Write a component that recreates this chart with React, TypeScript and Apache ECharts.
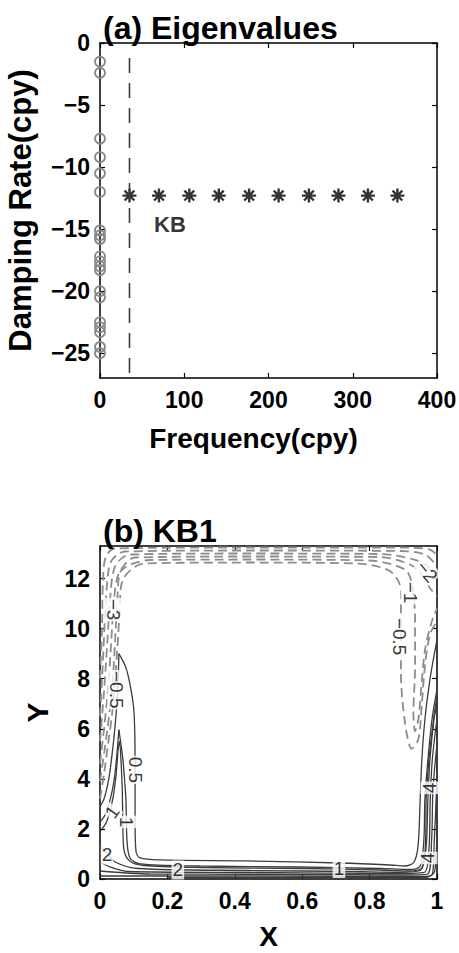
import React, { useEffect, useRef } from "react";
import * as echarts from "echarts";

// ---------- Panel (a): eigenvalues ----------
const xTicksA = [0, 100, 200, 300, 400];
const yTicksA = [-25, -20, -15, -10, -5, 0];
const kbFreq = [35, 70, 106, 141, 177, 212, 248, 283, 318, 353];
const kbDamp = [-12.3, -12.3, -12.3, -12.3, -12.3, -12.3, -12.3, -12.3, -12.3, -12.3];
const otherFreq = [0, 0, 0, 0, 0, 0, 0, 0, 0, 0, 0, 0, 0, 0, 0, 0, 0, 0, 0, 0];
const otherDamp = [-1.5, -2.4, -7.7, -9.2, -10.5, -12.0, -15.1, -15.5, -15.8, -17.2, -17.6, -18.0, -18.3, -20.0, -20.5, -22.5, -22.9, -23.3, -24.5, -25.0];
const cutoffFreq = 35;
const cutoffDamp = [-1.2, -27];
const kbNote = { x: 83, y: -14.6, text: "KB" };

// ---------- Panel (b): KB1 contours ----------
const xTicksB = [0, 0.2, 0.4, 0.6, 0.8, 1];
const yTicksB = [0, 2, 4, 6, 8, 10, 12];

// positive contours (solid)
const solidContours: number[][][] = [
  // 0.5
  [[0.056, 9.0], [0.077, 8.44], [0.092, 7.56], [0.101, 6.64], [0.104, 4.76], [0.104, 2.36], [0.107, 1.08], [0.119, 0.84], [0.178, 0.76], [0.445, 0.72], [0.712, 0.64], [0.861, 0.56], [0.905, 0.52], [0.932, 0.68], [0.944, 1.36], [0.95, 3.16], [0.955, 4.76], [0.964, 6.36], [0.979, 7.96], [1.0, 9.56]],
  [[0.056, 9.0], [0.054, 8.0], [0.05, 7.0], [0.044, 6.0], [0.036, 5.0], [0.026, 4.0], [0.012, 3.2], [0.0, 2.9]],
  // 1
  [[0.056, 5.96], [0.068, 4.76], [0.077, 3.16], [0.08, 1.56], [0.089, 0.84], [0.119, 0.6], [0.297, 0.52], [0.593, 0.48], [0.831, 0.42], [0.92, 0.38], [0.95, 0.52], [0.961, 1.56], [0.964, 3.16], [0.973, 4.76], [0.985, 6.36], [1.0, 7.56]],
  [[0.056, 5.96], [0.05, 4.96], [0.042, 3.96], [0.03, 3.16], [0.015, 2.56], [0.0, 2.28]],
  // 1.5
  [[0.0, 1.9], [0.02, 2.3], [0.038, 3.2], [0.048, 4.2], [0.054, 5.2], [0.058, 5.5], [0.062, 4.8], [0.066, 3.6], [0.068, 2.0], [0.072, 1.1], [0.09, 0.7], [0.13, 0.54], [0.3, 0.46], [0.6, 0.42], [0.83, 0.36], [0.915, 0.32], [0.955, 0.45], [0.966, 1.5], [0.968, 3.2], [0.976, 4.76], [0.99, 6.4], [1.0, 7.3]],
  // 2
  [[0.0, 1.32], [0.018, 1.08], [0.045, 0.68], [0.113, 0.42], [0.445, 0.34], [0.742, 0.3], [0.89, 0.27], [0.95, 0.34], [0.967, 1.16], [0.973, 3.16], [0.979, 4.76], [0.991, 6.36], [1.0, 7.0]],
  [[0.0, 0.68], [0.03, 0.48], [0.083, 0.3], [0.445, 0.26], [0.89, 0.22], [0.962, 0.26], [0.976, 1.16], [0.98, 3.16], [0.986, 4.76], [1.0, 6.4]],
  [[0.0, 0.32], [0.148, 0.2], [0.445, 0.19], [0.9, 0.16], [0.972, 0.2], [0.984, 1.56], [0.988, 3.56], [1.0, 5.4]],
  [[0.0, 0.12], [0.445, 0.12], [0.95, 0.1], [0.985, 0.16], [0.992, 1.56], [1.0, 4.0]],
  [[0.2, 0.06], [0.96, 0.05], [0.993, 0.3], [1.0, 2.4]],
];

// negative contours (dashed)
const dashedContours: number[][][] = [
  [[0.0, 8.0], [0.006, 10.0], [0.009, 12.0], [0.018, 12.9], [0.045, 13.2], [0.445, 13.24], [0.89, 13.24], [0.979, 13.16], [1.0, 12.92]],
  [[0.0, 6.5], [0.008, 8.5], [0.015, 10.5], [0.024, 12.2], [0.036, 12.75], [0.074, 13.08], [0.445, 13.12], [0.89, 13.1], [0.964, 12.96], [1.0, 12.5]],
  [[0.0, 5.5], [0.012, 7.5], [0.022, 9.5], [0.03, 11.2], [0.045, 12.5], [0.089, 12.96], [0.445, 13.0], [0.831, 12.98], [0.935, 12.75], [0.975, 12.45], [1.0, 12.1]],
  [[0.0, 4.6], [0.012, 6.0], [0.024, 7.6], [0.033, 9.4], [0.042, 11.2], [0.056, 12.2], [0.104, 12.84], [0.445, 12.88], [0.831, 12.86], [0.92, 12.56], [0.958, 12.1], [0.98, 11.6], [1.0, 11.3]],
  [[0.0, 3.9], [0.012, 5.0], [0.026, 6.4], [0.038, 8.0], [0.046, 9.8], [0.052, 11.3], [0.062, 12.3], [0.148, 12.74], [0.445, 12.76], [0.8, 12.72], [0.905, 12.36], [0.926, 11.76], [0.935, 10.24], [0.935, 8.48], [0.93, 6.64], [0.935, 5.9], [0.945, 6.4], [0.953, 7.6], [0.965, 9.2], [0.985, 10.3], [1.0, 10.8]],
  [[0.0, 3.2], [0.012, 4.2], [0.024, 5.4], [0.036, 6.6], [0.045, 8.0], [0.052, 9.3], [0.058, 10.6], [0.066, 11.9], [0.13, 12.6], [0.445, 12.64], [0.76, 12.6], [0.86, 12.3], [0.893, 11.56], [0.893, 10.08], [0.893, 8.24], [0.905, 6.24], [0.925, 5.2], [0.945, 5.6], [0.955, 7.0], [0.965, 8.6], [0.98, 9.8], [1.0, 10.3]],
];

const contourLabels = [
  { x: 0.039, y: 10.76, text: "\u22123", rotate: -90 },
  { x: 0.05, y: 7.56, text: "\u22120.5", rotate: -90 },
  { x: 0.104, y: 4.36, text: "0.5", rotate: -90 },
  { x: 0.036, y: 2.68, text: "1", rotate: 55 },
  { x: 0.08, y: 2.28, text: "1", rotate: -90 },
  { x: 0.021, y: 0.96, text: "2", rotate: 0 },
  { x: 0.231, y: 0.36, text: "2", rotate: 0 },
  { x: 0.709, y: 0.42, text: "1", rotate: 0 },
  { x: 0.979, y: 3.64, text: "4", rotate: 90 },
  { x: 0.973, y: 0.84, text: "4", rotate: 90 },
  { x: 0.97, y: 12.28, text: "\u22122", rotate: -50 },
  { x: 0.92, y: 11.44, text: "\u22121", rotate: -90 },
  { x: 0.89, y: 9.68, text: "\u22120.5", rotate: -90 },
];

const FONT = "'Liberation Sans', Arial, Helvetica, sans-serif";
const fmt = (v: number) => {
  const r = Math.round(v * 1000) / 1000;
  return r < 0 ? "\u2212" + Math.abs(r) : String(r);
};

const ASTERISK = "path://M0,-10L0,10M-10,0L10,0M-7,-7L7,7M-7,7L7,-7";

function mainAxis(grid: number, pos: string, min: number, max: number, ticks: number[], name: string, nameGap: number, nameSize: number, extra: any = {}, namePad: number[] = [0, 0, 0, 0]) {
  return {
    type: "value",
    gridIndex: grid,
    position: pos,
    min,
    max,
    name,
    nameLocation: "middle",
    nameGap,
    nameTextStyle: { fontFamily: FONT, fontWeight: "bold", fontSize: nameSize, color: "#000", padding: namePad },
    axisLine: { show: true, onZero: false, lineStyle: { color: "#000", width: 1.5 } },
    axisTick: { show: true, inside: true, length: 5, customValues: ticks, lineStyle: { color: "#000", width: 1.2 } },
    axisLabel: { show: true, customValues: ticks, formatter: fmt, fontFamily: FONT, fontWeight: "bold", fontSize: 23, color: "#000", margin: 10 },
    splitLine: { show: false },
    ...extra,
  };
}

function boxAxis(grid: number, pos: string, min: number, max: number, ticks: number[]) {
  return {
    type: "value",
    gridIndex: grid,
    position: pos,
    min,
    max,
    axisLine: { show: true, onZero: false, lineStyle: { color: "#000", width: 1.5 } },
    axisTick: { show: true, inside: true, length: 5, customValues: ticks, lineStyle: { color: "#000", width: 1.2 } },
    axisLabel: { show: false },
    splitLine: { show: false },
  };
}

export default function App() {
  const ref = useRef<HTMLDivElement>(null);
  useEffect(() => {
    if (!ref.current) return;
    const chart = echarts.init(ref.current, null, { renderer: "svg" });

    const series: any[] = [];
    // panel (a)
    series.push({
      type: "line",
      xAxisIndex: 0,
      yAxisIndex: 0,
      data: cutoffDamp.map((d) => [cutoffFreq, d]),
      showSymbol: false,
      lineStyle: { color: "#3a3a3a", width: 1.6, type: [15, 10] },
      silent: true,
    });
    series.push({
      type: "scatter",
      xAxisIndex: 0,
      yAxisIndex: 0,
      clip: false,
      data: otherFreq.map((f, i) => [f, otherDamp[i]]),
      symbol: "circle",
      symbolSize: 10,
      itemStyle: { color: "rgba(255,255,255,0)", borderColor: "#888888", borderWidth: 1.8, opacity: 1 },
    });
    series.push({
      type: "scatter",
      xAxisIndex: 0,
      yAxisIndex: 0,
      data: kbFreq.map((f, i) => [f, kbDamp[i]]),
      symbol: ASTERISK,
      symbolSize: 14,
      itemStyle: { color: "none", borderColor: "#000", borderWidth: 2.4 },
    });
    series.push({
      type: "scatter",
      xAxisIndex: 0,
      yAxisIndex: 0,
      data: [{ value: [kbNote.x, kbNote.y], label: { formatter: kbNote.text } }],
      symbolSize: 1,
      itemStyle: { color: "rgba(0,0,0,0)" },
      label: { show: true, position: "inside", fontFamily: FONT, fontWeight: "bold", fontSize: 22, color: "#000", textBorderWidth: 0 },
      silent: true,
    });
    // panel (b)
    dashedContours.forEach((c) => {
      series.push({
        type: "line",
        xAxisIndex: 2,
        yAxisIndex: 2,
        data: c,
        showSymbol: false,
        smooth: 0.3,
        lineStyle: { color: "#8c8c8c", width: 1.8, type: [9, 5] },
        silent: true,
      });
    });
    solidContours.forEach((c) => {
      series.push({
        type: "line",
        xAxisIndex: 2,
        yAxisIndex: 2,
        data: c,
        showSymbol: false,
        smooth: 0.3,
        lineStyle: { color: "#3c3c3c", width: 1.3 },
        silent: true,
      });
    });
    series.push({
      type: "scatter",
      xAxisIndex: 2,
      yAxisIndex: 2,
      z: 10,
      data: contourLabels.map((l) => ({ value: [l.x, l.y], label: { formatter: l.text, rotate: l.rotate } })),
      symbolSize: 1,
      itemStyle: { color: "rgba(0,0,0,0)" },
      label: { show: true, position: "inside", fontFamily: FONT, fontSize: 19, color: "#000", textBorderWidth: 0, backgroundColor: "#fff", padding: [0, 1] },
      silent: true,
    });

    chart.setOption({
      animation: false,
      backgroundColor: "#fff",
      title: [
        { text: "(a) Eigenvalues", left: 98, top: 7, textStyle: { fontFamily: FONT, fontWeight: "bold", fontSize: 32, color: "#000" } },
        { text: "(b) KB1", left: 98, top: 510, textStyle: { fontFamily: FONT, fontWeight: "bold", fontSize: 32, color: "#000" } },
      ],
      grid: [
        { left: 100, top: 43, width: 337, height: 335, outerBoundsMode: "none" },
        { left: 100, top: 546, width: 337, height: 333, outerBoundsMode: "none" },
      ],
      xAxis: [
        mainAxis(0, "bottom", 0, 400, xTicksA, "Frequency(cpy)", 46, 28, { interval: 100 }, [0, 30, 0, 0]),
        boxAxis(0, "top", 0, 400, xTicksA),
        mainAxis(1, "bottom", 0, 1, xTicksB, "X", 43, 28, { interval: 0.2 }),
        boxAxis(1, "top", 0, 1, xTicksB),
      ],
      yAxis: [
        mainAxis(0, "left", -27, 0, yTicksA, "Damping Rate(cpy)", 64, 31),
        boxAxis(0, "right", -27, 0, yTicksA),
        mainAxis(1, "left", 0, 13.3, yTicksB, "Y", 48, 30),
        boxAxis(1, "right", 0, 13.3, yTicksB),
      ],
      series,
    });
    return () => chart.dispose();
  }, []);
  return <div ref={ref} style={{ position: "fixed", left: 0, top: 0, width: 459, height: 953, background: "#fff" }} />;
}
